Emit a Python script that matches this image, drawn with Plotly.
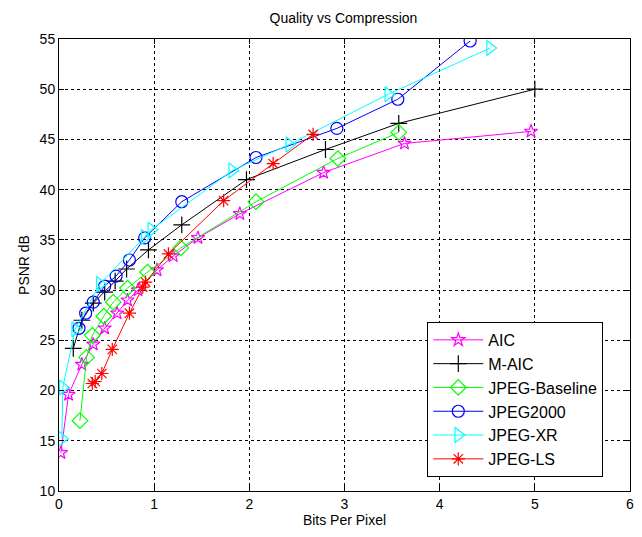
import plotly.graph_objects as go

aic_x = [0.02, 0.10, 0.24, 0.36, 0.48, 0.61, 0.72, 0.83, 1.03, 1.20, 1.46, 1.90, 2.78, 3.63, 4.96]
aic_y = [13.8, 19.6, 22.6, 24.6, 26.2, 27.7, 29.0, 30.0, 32.0, 33.4, 35.2, 37.6, 41.7, 44.6, 45.8]

maic_x = [0.15, 0.24, 0.36, 0.48, 0.59, 0.71, 0.94, 1.29, 1.97, 2.80, 3.57, 5.00]
maic_y = [24.2, 27.0, 28.7, 29.8, 30.9, 32.1, 34.0, 36.5, 41.0, 44.0, 46.6, 50.0]

base_x = [0.22, 0.29, 0.35, 0.47, 0.57, 0.72, 0.93, 1.28, 2.07, 2.93, 3.57]
base_y = [17.0, 23.3, 25.5, 27.4, 28.8, 30.2, 31.8, 34.2, 38.8, 43.1, 45.7]

j2k_x = [0.21, 0.28, 0.36, 0.48, 0.60, 0.74, 0.90, 1.29, 2.07, 2.92, 3.56, 4.32]
j2k_y = [26.2, 27.7, 28.8, 30.4, 31.4, 33.0, 35.2, 38.8, 43.2, 46.1, 49.0, 54.8]

xr_x = [0.03, 0.04, 0.17, 0.43, 0.90, 0.97, 1.82, 2.42, 3.46, 4.53]
xr_y = [15.2, 20.3, 26.1, 30.6, 35.3, 36.0, 41.9, 44.5, 49.5, 54.1]

ls_x = [0.35, 0.38, 0.45, 0.56, 0.74, 0.88, 0.91, 1.15, 1.73, 2.25, 2.67]
ls_y = [20.7, 20.9, 21.7, 24.1, 27.7, 30.3, 30.8, 33.6, 38.9, 42.6, 45.5]

series = [
    ("AIC", aic_x, aic_y, "#ff00ff", "star-open", 10),
    ("M-AIC", maic_x, maic_y, "#000000", "cross-thin-open", 12),
    ("JPEG-Baseline", base_x, base_y, "#00ff00", "diamond-open", 12),
    ("JPEG2000", j2k_x, j2k_y, "#0000ff", "circle-open", 12),
    ("JPEG-XR", xr_x, xr_y, "#00ffff", "triangle-right-open", 13),
    ("JPEG-LS", ls_x, ls_y, "#ff0000", "asterisk-open", 11),
]

fig = go.Figure()
for name, xs, ys, col, sym, sz in series:
    fig.add_trace(go.Scatter(
        x=xs, y=ys, name=name, mode="lines+markers",
        line=dict(color=col, width=1),
        marker=dict(symbol=sym, size=sz, color=col, line=dict(color=col, width=1.2)),
    ))

axis_common = dict(
    showline=True, linecolor="black", linewidth=1, mirror="ticks",
    ticks="inside", ticklen=5, tickcolor="black",
    showgrid=True, gridcolor="black", griddash="dot", gridwidth=1,
    zeroline=False, tickfont=dict(size=14, color="black"),
    automargin=False,
)

fig.update_layout(
    width=642, height=537,
    paper_bgcolor="white", plot_bgcolor="white",
    margin=dict(l=59, r=12, t=39, b=46),
    font=dict(family="Liberation Sans, Arial, sans-serif", color="black"),
    title=dict(text="Quality vs Compression", x=0.535, xanchor="center",
               y=1 - 18 / 537, yanchor="middle", font=dict(size=14)),
    xaxis=dict(range=[0, 6], dtick=1,
               title=dict(text="Bits Per Pixel", font=dict(size=14), standoff=4),
               **axis_common),
    yaxis=dict(range=[10, 55], dtick=5,
               title=dict(text="PSNR dB", font=dict(size=14), standoff=6),
               **axis_common),
    legend=dict(x=0.645, y=0.374, xanchor="left", yanchor="top",
                bgcolor="white", bordercolor="black", borderwidth=1,
                font=dict(size=16), tracegroupgap=0, itemwidth=50),
    showlegend=True,
)

fig.write_html("out.html")
